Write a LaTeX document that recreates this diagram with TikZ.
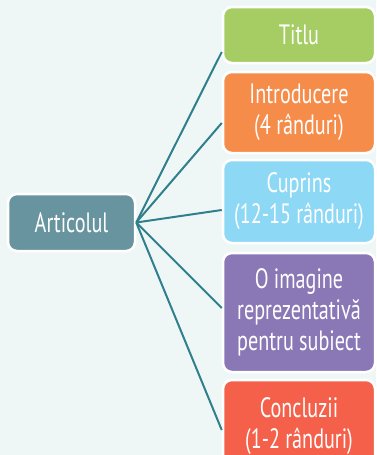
\documentclass[tikz,border=0pt]{standalone}
\usepackage{fontspec}
\setmainfont[FakeStretch=0.72]{PT Sans}
\definecolor{bg}{HTML}{EFF7F6}
\definecolor{cart}{HTML}{67949F}
\definecolor{cgreen}{HTML}{A5CD64}
\definecolor{corange}{HTML}{F58C4A}
\definecolor{cblue}{HTML}{8DD8F5}
\definecolor{cpurple}{HTML}{8A77B6}
\definecolor{cred}{HTML}{F5604B}
\definecolor{cline}{HTML}{2F7F8C}
\tikzset{
  box/.style={draw=white, line width=2.5pt, rounded corners=9pt, text=white,
    align=center, inner sep=0pt, font=\fontsize{28}{31}\selectfont},
  conn/.style={draw=cline, line width=2pt},
}
\begin{document}
\begin{tikzpicture}[x=1pt,y=-1pt]
\fill[bg] (0,0) rectangle (376,455);
\useasboundingbox (0,0) rectangle (376,455);
\node[box, fill=cart, minimum width=127pt, minimum height=57pt] (art) at (71.5,222.5) {Articolul};
\node[box, fill=cgreen, minimum width=152pt, minimum height=56pt] (titlu) at (299,35) {Titlu};
\node[box, fill=corange, minimum width=152pt, minimum height=81pt] (intro) at (299,112.5) {Introducere\\(4 rânduri)};
\node[box, fill=cblue, minimum width=152pt, minimum height=83pt] (cupr) at (299,201.5) {Cuprins\\(12-15 rânduri)};
\node[box, fill=cpurple, minimum width=152pt, minimum height=119pt] (img) at (299,312.5) {O imagine\\reprezentativă\\pentru subiect};
\node[box, fill=cred, minimum width=152pt, minimum height=92pt] (concl) at (299,426) {Concluzii\\(1-2 rânduri)};
\draw[conn] (art.east) -- ([yshift=-17pt]titlu.west);
\draw[conn] (art.east) -- ([yshift=-10.5pt]intro.west);
\draw[conn] (art.east) -- ([yshift=-8.5pt]cupr.west);
\draw[conn] (art.east) -- ([yshift=4.5pt]img.west);
\draw[conn] (art.east) -- ([yshift=-4pt]concl.west);
\end{tikzpicture}
\end{document}
